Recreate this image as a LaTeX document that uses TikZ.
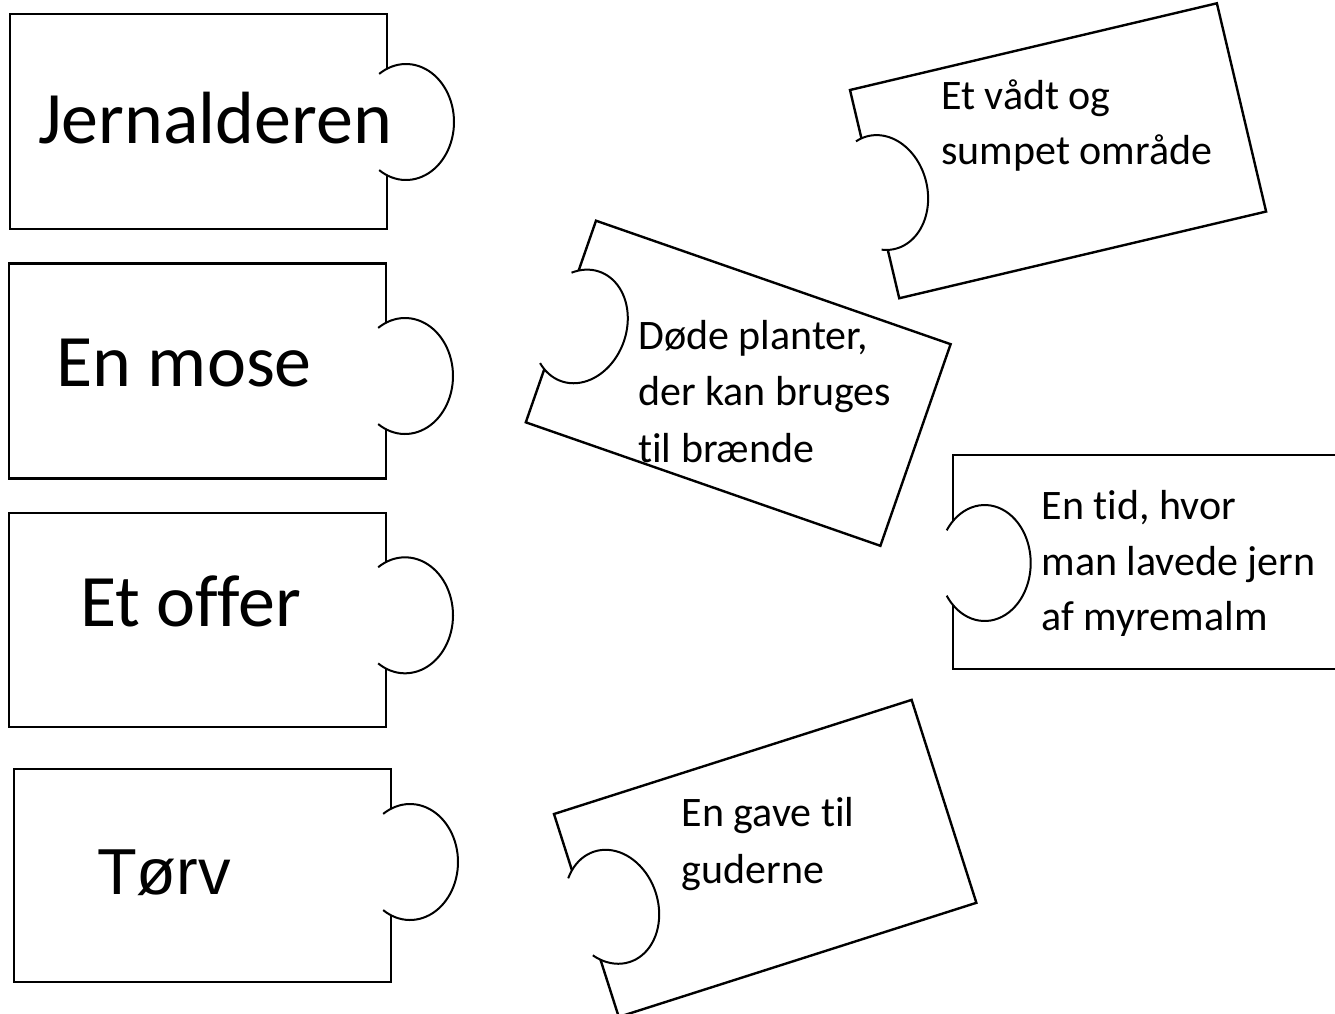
\documentclass[tikz,border=0pt]{standalone}
\usepackage{fontspec}
\setmainfont[Ligatures={NoCommon}]{Carlito}
\newfontfamily\arialfont{Liberation Sans}
\newcommand\tabbox[5]{% #1 left, #2 top, #3 right, #4 bottom, #5 tab centre y
  \draw[edge] (#3,#5-53) -- (#3,#2) -- (#1,#2) -- (#1,#4) -- (#3,#4) -- (#3,#5+53);
  \draw[lobe] plot[smooth, domain=-124:124, samples=61] ({#3+19+48*cos(\x)},{#5+58*sin(\x)});
}
\newcommand\notchpiece[7]{% #1 x, #2 y, #3 angle, #4 width, #5 height, #6 notch centre offset, #7 notch centre y
  \begin{scope}[shift={(#1,#2)}, rotate=#3]
    \pgfmathsetmacro\gapv{58*sqrt(1-(#6/46)^2)}
    \pgfmathsetmacro\enda{acos(-(#6+6)/46)}
    \draw[edge] (0,#7-\gapv) -- (0,0) -- (#4,0) -- (#4,#5) -- (0,#5) -- (0,#7+\gapv);
    \draw[lobe] plot[smooth, domain=-\enda:\enda, samples=61] ({#6+46*cos(\x)},{#7+58*sin(\x)});
  \end{scope}
}
\begin{document}
\begin{tikzpicture}[x=1pt,y=-1pt,
  edge/.style={line width=2.4pt, line join=miter},
  lobe/.style={line width=2pt},
  bigtxt/.style={font=\fontsize{74}{88}\selectfont, anchor=base west, inner sep=0pt},
  smalltxt/.style={font=\fontsize{42}{50}\selectfont, anchor=base west, inner sep=0pt}]
\useasboundingbox (0,0) rectangle (1335,1013);
\clip (0,0) rectangle (1335,1013);

% left pieces
\tabbox{10}{14}{387}{229}{122}
\tabbox{9}{263.3}{386}{478.3}{376}
\tabbox{9}{512.7}{386}{726.7}{615.3}
\tabbox{14}{769}{391}{982}{862}

\node[bigtxt] (t1) at (38,143) {Jernalderen};
\node[bigtxt] (t2) at (56,386) {En mose};
\node[bigtxt] (t3) at (80,626.7) {Et offer};
\node[bigtxt, font=\arialfont\fontsize{65}{78}\selectfont] (t4) at (97,894) {Tørv};

% right pieces
\notchpiece{850}{90}{13.3}{377}{214}{7}{107}
\notchpiece{596}{220.7}{-19.2}{375.5}{213.5}{20}{105}
\notchpiece{952.7}{455}{0}{400}{214}{32}{108}
\notchpiece{554}{814}{17.7}{375.4}{213}{27}{106}

\node[smalltxt] (a1) at (941,109.3) {Et vådt og};
\node[smalltxt] (a2) at (941,164.3) {sumpet område};

\node[smalltxt] (b1) at (638,349.3) {Døde planter,};
\node[smalltxt] (b2) at (638,405) {der kan bruges};
\node[smalltxt] (b3) at (638,462.7) {til brænde};

\begin{scope}
  \clip (940,450) rectangle (1335,635.5);
  \node[smalltxt] (c1) at (1041.5,519.3) {En tid, hvor};
  \node[smalltxt] (c2) at (1041.5,575) {man lavede jern};
  \node[smalltxt] (c3) at (1041.5,630) {af myremalm};
\end{scope}

\node[smalltxt] (d1) at (681.5,826.7) {En gave til};
\node[smalltxt] (d2) at (681.5,883.3) {guderne};
\end{tikzpicture}
\end{document}
